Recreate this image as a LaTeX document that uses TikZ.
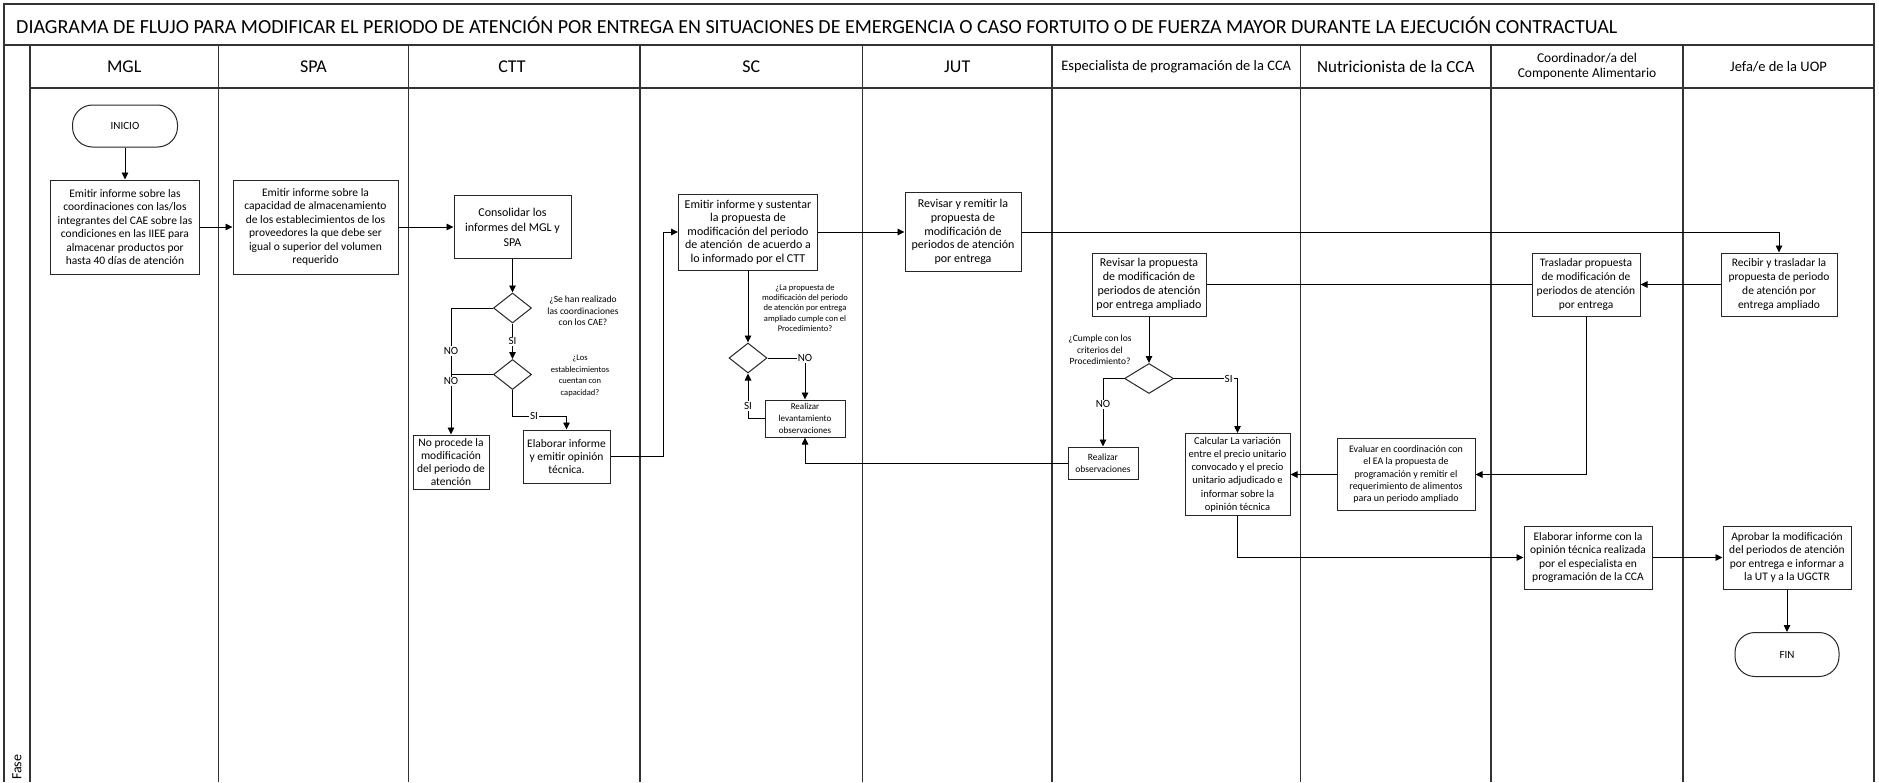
\documentclass[tikz,border=0pt]{standalone}
\usepackage{fontspec}
\setmainfont{Carlito}
\usetikzlibrary{arrows.meta, positioning, shapes.geometric, calc}

\begin{document}
\begin{tikzpicture}[x=1pt, y=-1pt,
    lane/.style={line width=1.1pt, black!80},
    lanehead/.style={align=center, font=\fontsize{18}{20}\selectfont},
    procbox/.style={draw=black!85, line width=1pt, align=center, inner sep=1pt, font=\fontsize{11.5}{13.4}\selectfont},
    termbox/.style={draw=black!85, line width=1pt, rounded corners=20pt, inner sep=0pt, font=\fontsize{11}{13}\selectfont},
    decbox/.style={diamond, draw=black!85, line width=1pt, inner sep=0pt, minimum width=38pt, minimum height=30pt},
    asklabel/.style={align=center, font=\fontsize{9}{11.3}\selectfont},
    flowline/.style={line width=0.9pt, -{Triangle[length=7pt, width=6.5pt]}},
    plainline/.style={line width=0.9pt},
    ynlabel/.style={fill=white, inner sep=1pt, font=\fontsize{11}{12}\selectfont}
]
    \useasboundingbox (0,0) rectangle (1879,782);

    % Frame and lanes
    \draw[lane] (4,782) -- (4,4) -- (1874,4) -- (1874,782);
    \draw[lane] (4,45) -- (1874,45);
    \draw[lane] (30,88) -- (1874,88);
    \draw[lane] (30,45) -- (30,782)
                (218.5,45) -- (218.5,782)
                (408.5,45) -- (408.5,782)
                (640,45) -- (640,782)
                (862.5,45) -- (862.5,782)
                (1052,45) -- (1052,782)
                (1300.5,45) -- (1300.5,782)
                (1491,45) -- (1491,782)
                (1683,45) -- (1683,782);

    % Title
    \node[anchor=west, inner sep=0pt, font=\fontsize{20}{24}\selectfont] (title) at (16,25)
        {DIAGRAMA DE FLUJO PARA MODIFICAR EL PERIODO DE ATENCIÓN POR ENTREGA EN SITUACIONES DE EMERGENCIA O CASO FORTUITO O DE FUERZA MAYOR DURANTE LA EJECUCIÓN CONTRACTUAL};
    \node[rotate=90, anchor=west, inner sep=1pt, font=\fontsize{14}{16}\selectfont] (fase) at (17,781) {Fase};

    % Lane headers
    \node[lanehead] (hmgl) at (124.25,66.5) {MGL};
    \node[lanehead] (hspa) at (313.5,66.5) {SPA};
    \node[lanehead] (hctt) at (512,66.5) {CTT};
    \node[lanehead] (hsc) at (751.25,66.5) {SC};
    \node[lanehead] (hjut) at (957.25,66.5) {JUT};
    \node[lanehead, font=\fontsize{14.5}{16}\selectfont] (hesp) at (1176.25,66.5) {Especialista de programación de la CCA};
    \node[lanehead, font=\fontsize{17}{19}\selectfont] (hnut) at (1395.75,66.5) {Nutricionista de la CCA};
    \node[lanehead, font=\fontsize{13.5}{15.5}\selectfont] (hcoord) at (1587,66.5) {Coordinador/a del\\Componente Alimentario};
    \node[lanehead, font=\fontsize{14.5}{17}\selectfont] (hjefa) at (1778.5,66.5) {Jefa/e de la UOP};

    % MGL and SPA
    \node[termbox, minimum width=105pt, minimum height=42pt] (inicio) at (125,126) {INICIO};
    \node[procbox, minimum width=149pt, minimum height=94pt] (mgl) at (125,227)
        {Emitir informe sobre las\\coordinaciones con las/los\\integrantes del CAE sobre las\\condiciones en las IIEE para\\almacenar productos por\\hasta 40 días de atención};
    \node[procbox, minimum width=165pt, minimum height=94pt] (spa) at (315.5,227)
        {Emitir informe sobre la\\capacidad de almacenamiento\\de los establecimientos de los\\proveedores la que debe ser\\igual o superior del volumen\\requerido};

    % CTT
    \node[procbox, minimum width=117pt, minimum height=63pt, font=\fontsize{12}{15}\selectfont] (consol) at (512.5,227)
        {Consolidar los\\informes del MGL y\\SPA};
    \node[decbox] (dec1) at (512.5,308) {};
    \node[asklabel, font=\fontsize{9.5}{11.7}\selectfont] (ask1) at (583,311) {¿Se han realizado\\las coordinaciones\\con los CAE?};
    \node[decbox] (dec2) at (512.5,374.5) {};
    \node[asklabel, font=\fontsize{8.5}{11.8}\selectfont] (ask2) at (580,376) {¿Los\\establecimientos\\cuentan con\\capacidad?};
    \node[procbox, minimum width=87pt, minimum height=53pt] (elab) at (566.5,456.5)
        {Elaborar informe\\y emitir opinión\\técnica.};
    \node[procbox, minimum width=76pt, minimum height=54pt, font=\fontsize{11.5}{13}\selectfont] (noproc) at (451,462)
        {No procede la\\modificación\\del periodo de\\atención};

    % SC and JUT
    \node[procbox, minimum width=139pt, minimum height=76pt, font=\fontsize{12}{13.5}\selectfont] (sc) at (748,232)
        {Emitir informe y sustentar\\la propuesta de\\modificación del periodo\\de atención \ de acuerdo a\\lo informado por el CTT};
    \node[procbox, minimum width=116pt, minimum height=79pt, font=\fontsize{12}{13.8}\selectfont] (jut) at (963,232)
        {Revisar y remitir la\\propuesta de\\modificación de\\periodos de atención\\por entrega};
    \node[decbox] (dec3) at (748,358) {};
    \node[asklabel, font=\fontsize{8.5}{10.4}\selectfont] (ask3) at (805,308)
        {¿La propuesta de\\modificación del periodo\\de atención por entrega\\ampliado cumple con el\\Procedimiento?};
    \node[procbox, minimum width=80pt, minimum height=37pt, font=\fontsize{9}{11.7}\selectfont] (lev) at (805,418.5)
        {Realizar\\levantamiento\\observaciones};

    % Especialista and Nutricionista
    \node[procbox, minimum width=114pt, minimum height=63pt, font=\fontsize{12}{14}\selectfont] (revisar) at (1149,284.5)
        {Revisar la propuesta\\de modificación de\\periodos de atención\\por entrega ampliado};
    \node[decbox, minimum width=49pt] (dec4) at (1149,378.5) {};
    \node[asklabel, font=\fontsize{9.5}{11.3}\selectfont] (ask4) at (1100,350) {¿Cumple con los\\criterios del\\Procedimiento?};
    \node[procbox, minimum width=70pt, minimum height=32pt, font=\fontsize{9.5}{12.3}\selectfont] (obs) at (1103,463)
        {Realizar\\observaciones};
    \node[procbox, minimum width=105pt, minimum height=82pt, font=\fontsize{10.5}{13.3}\selectfont] (calc) at (1237.5,474.5)
        {Calcular La variación\\entre el precio unitario\\convocado y el precio\\unitario adjudicado e\\informar sobre la\\opinión técnica};
    \node[procbox, minimum width=138pt, minimum height=72pt, font=\fontsize{10}{12.3}\selectfont] (eval) at (1406,474.5)
        {Evaluar en coordinación con\\el EA la propuesta de\\programación y remitir el\\requerimiento de alimentos\\para un periodo ampliado};

    % Coordinador and Jefa
    \node[procbox, minimum width=108pt, minimum height=63pt, font=\fontsize{11.5}{14}\selectfont] (trasl) at (1586,284.5)
        {Trasladar propuesta\\de modificación de\\periodos de atención\\por entrega};
    \node[procbox, minimum width=116pt, minimum height=63pt, font=\fontsize{11.5}{14}\selectfont] (recibir) at (1779,284.5)
        {Recibir y trasladar la\\propuesta de periodo\\de atención por\\entrega ampliado};
    \node[procbox, minimum width=128pt, minimum height=63pt, font=\fontsize{11.5}{13.3}\selectfont] (elabinf) at (1588,557.5)
        {Elaborar informe con la\\opinión técnica realizada\\por el especialista en\\programación de la CCA};
    \node[procbox, minimum width=128pt, minimum height=63pt, font=\fontsize{11.5}{13.3}\selectfont] (aprobar) at (1787,557.5)
        {Aprobar la modificación\\del periodos de atención\\por entrega e informar a\\la UT y a la UGCTR};
    \node[termbox, minimum width=104pt, minimum height=44pt] (fin) at (1787,654.5) {FIN};

    % Connectors
    \draw[flowline] (inicio) -- (mgl);
    \draw[flowline] (mgl) -- (spa);
    \draw[flowline] (spa) -- (consol);
    \draw[flowline] (consol) -- (dec1);
    \draw[flowline] (dec1.west) -| (noproc.north)
        node[ynlabel, pos=0.67] (no1) {NO}
        node[ynlabel, pos=0.79] (no2) {NO};
    \draw[plainline] (dec2.west) -- (dec2.west -| noproc.north);
    \draw[flowline] (dec1.south) -- node[ynlabel] (si1) {SI} (dec2.north);
    \draw[flowline] (dec2.south) -- ++(0,26) -| node[ynlabel, pos=0.2] (si2) {SI} (elab.north);
    \draw[flowline] (elab.east) -- ++(53,0) |- (sc.west);

    \draw[flowline] (sc) -- (jut);
    \draw[flowline] (sc.south) -- (dec3.north);
    \draw[flowline] (dec3.east) -| node[ynlabel, pos=0.5] (no3) {NO} (lev.north);
    \draw[flowline] (lev.west) -| node[ynlabel, pos=0.64] (si3) {SI} (dec3.south);
    \draw[flowline] (jut.east) -| (recibir.north);

    \draw[flowline] (recibir) -- (trasl);
    \draw[plainline] (trasl.west) -- (revisar.east);
    \draw[flowline] (revisar) -- (dec4);
    \draw[flowline] (dec4.west) -| node[ynlabel, pos=0.69] (no4) {NO} (obs.north);
    \draw[flowline] (dec4.east) -| node[ynlabel, pos=0.43] (si4) {SI} (calc.north);
    \draw[flowline] (obs.west) -| (lev.south);
    \draw[flowline] (trasl.south) |- (eval.east);
    \draw[flowline] (eval) -- (calc);
    \draw[flowline] (calc.south) |- (elabinf.west);
    \draw[flowline] (elabinf) -- (aprobar);
    \draw[flowline] (aprobar) -- (fin);

\end{tikzpicture}
\end{document}
